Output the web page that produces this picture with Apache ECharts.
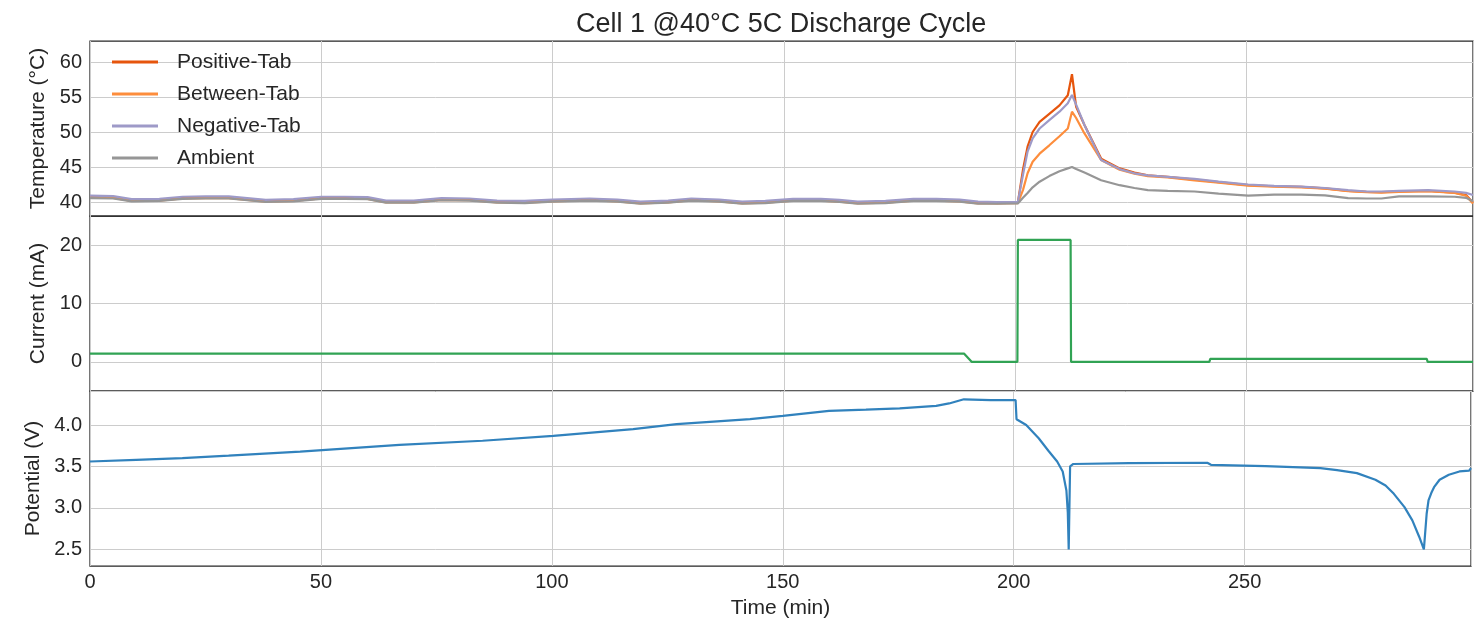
<!DOCTYPE html>
<html>
<head>
<meta charset="utf-8">
<script src="https://cdn.jsdelivr.net/npm/echarts@6/dist/echarts.min.js"></script>
<style>
html,body{margin:0;padding:0;background:#fff;}
#chart{width:1474px;height:623px;}
</style>
</head>
<body>
<div id="chart"></div>
<script>
// ---------- DATA ----------
var titleText = 'Cell 1 @40°C 5C Discharge Cycle';
var seriesNames = ['Positive-Tab', 'Between-Tab', 'Negative-Tab', 'Ambient'];
var xTicks = [0, 50, 100, 150, 200, 250];

var tempTime = [0, 5, 9, 15, 20, 25, 30, 38, 44, 50, 55, 60, 64, 70, 76, 82, 88, 94, 100, 108,
  114, 119, 125, 130, 136, 141, 146, 152, 158, 162, 166, 172, 178, 183, 188, 192, 196,
  200.6, 201.7, 202.7, 203.8, 205.3, 207.4, 209.6, 211.4, 212.3, 213.2,
  215.0, 218.6, 222.6, 225.8, 228.7, 233, 238.8, 244, 250.4, 256,
  261.9, 267, 272, 276, 279.2, 283, 289.3, 295, 297.5, 299.0];

var positiveTab = [40.75, 40.7, 40.25, 40.3, 40.6, 40.65, 40.65, 40.15, 40.25, 40.6, 40.6, 40.55, 40.05, 40.05, 40.4, 40.35, 40.05, 40.0, 40.2, 40.35,
  40.2, 39.9, 40.05, 40.35, 40.2, 39.9, 40.0, 40.3, 40.3, 40.15, 39.9, 40.0, 40.3, 40.3, 40.2, 39.9, 39.85,
  39.9, 44.6, 47.9, 50.0, 51.45, 52.6, 53.8, 55.25, 58.25, 53.6,
  51.0, 46.2, 44.8, 44.2, 43.8, 43.6, 43.2, 42.85, 42.4, 42.25,
  42.15, 41.95, 41.6, 41.45, 41.4, 41.5, 41.6, 41.35, 41.0, 39.9];

var betweenTab = [40.65, 40.6, 40.15, 40.2, 40.5, 40.55, 40.55, 40.05, 40.15, 40.5, 40.5, 40.45, 39.95, 39.95, 40.3, 40.25, 39.95, 39.9, 40.1, 40.25,
  40.1, 39.8, 39.95, 40.25, 40.1, 39.8, 39.9, 40.2, 40.2, 40.05, 39.8, 39.9, 40.2, 40.2, 40.1, 39.8, 39.8,
  39.85, 41.7, 44.1, 45.75, 46.9, 48.1, 49.4, 50.5, 52.9, 52.0,
  49.8, 46.0, 44.6, 44.05, 43.7, 43.5, 43.1, 42.75, 42.35, 42.2,
  42.1, 41.9, 41.55, 41.4, 41.35, 41.45, 41.55, 41.3, 40.9, 39.8];

var negativeTab = [40.9, 40.85, 40.4, 40.45, 40.75, 40.8, 40.8, 40.3, 40.4, 40.75, 40.75, 40.7, 40.2, 40.2, 40.55, 40.5, 40.2, 40.15, 40.35, 40.5,
  40.35, 40.05, 40.2, 40.5, 40.35, 40.05, 40.15, 40.45, 40.45, 40.3, 40.05, 40.15, 40.45, 40.45, 40.35, 40.05, 40.0,
  40.0, 43.85, 47.2, 49.1, 50.5, 51.7, 52.9, 54.1, 55.3, 53.9,
  51.0, 46.0, 44.7, 44.1, 43.8, 43.6, 43.3, 42.9, 42.5, 42.3,
  42.2, 42.0, 41.7, 41.5, 41.5, 41.6, 41.7, 41.5, 41.3, 41.0];

var ambient = [40.55, 40.5, 40.1, 40.15, 40.45, 40.5, 40.5, 40.0, 40.1, 40.45, 40.45, 40.4, 39.9, 39.9, 40.25, 40.2, 39.9, 39.85, 40.05, 40.2,
  40.05, 39.75, 39.9, 40.2, 40.05, 39.75, 39.85, 40.15, 40.15, 40.0, 39.75, 39.85, 40.15, 40.15, 40.05, 39.75, 39.75,
  39.8, 40.6, 41.3, 42.1, 42.9, 43.7, 44.4, 44.8, 45.0, 44.7,
  44.2, 43.1, 42.4, 42.0, 41.7, 41.6, 41.5, 41.2, 40.9, 41.05,
  41.05, 40.95, 40.55, 40.5, 40.5, 40.8, 40.8, 40.75, 40.6, 40.1];

var currentTime = [0, 189.0, 190.6, 200.5, 200.6, 212.0, 212.1, 242.0, 242.2, 289.0, 289.2, 299.0];
var currentVal  = [1.4, 1.4, 0.0, 0.0, 20.9, 20.9, 0.0, 0.0, 0.5, 0.5, 0.0, 0.0];

var potTime = [0, 10, 20, 30, 45.5, 67, 85, 100.3, 117.6, 127, 135, 142.9, 150, 155, 160, 168, 175.3, 183.2, 186, 189.2,
  195, 200.4, 200.6, 202.7, 205.4, 207.5, 209.4, 210.6, 211.4, 211.7, 211.9, 212.0, 212.2, 212.9, 225, 241.9,
  242.7, 254.5, 262, 266.4, 270, 274.3, 278.3, 280.5, 282.3, 284.6, 286.3, 287.8, 288.8, 289.4, 289.8, 290.4, 291, 292.2, 294.2, 296.5, 298.6, 299.0];
var potVal = [3.56, 3.58, 3.60, 3.63, 3.68, 3.76, 3.81, 3.87, 3.95, 4.01, 4.04, 4.07, 4.11, 4.14, 4.17, 4.185, 4.20, 4.23, 4.26, 4.31,
  4.30, 4.30, 4.07, 4.00, 3.84, 3.69, 3.56, 3.44, 3.21, 2.95, 2.50, 2.50, 3.50, 3.53, 3.54, 3.545,
  3.52, 3.505, 3.49, 3.48, 3.455, 3.42, 3.34, 3.27, 3.17, 3.01, 2.85, 2.65, 2.50, 2.93, 3.09, 3.18, 3.25, 3.34, 3.40, 3.44, 3.45, 3.48];

var tempLabelTicks = [40, 45, 50, 55, 60];
var currentLabelTicks = [0, 10, 20];
var potLabelTicks = [2.5, 3.0, 3.5, 4.0];

// ---------- CHART ----------
var FONT = "'Liberation Sans', Arial, sans-serif";
var TXT = '#262626';
var GRIDC = '#cccccc';
var T = 'rgba(0,0,0,0)';
var colors = { 'Positive-Tab': '#e6550d', 'Between-Tab': '#fd8d3c', 'Negative-Tab': '#9e9ac8', 'Ambient': '#969696' };

function pairs(xs, ys) { return xs.map(function (x, i) { return [x, ys[i]]; }); }
function inList(list, v) { return list.some(function (t) { return Math.abs(t - v) < 1e-6; }); }

var xCommon = function (idx, showLabel) {
  return {
    type: 'value', gridIndex: idx, min: 0, max: 299.0, interval: 50,
    axisLine: { show: false }, axisTick: { show: false },
    axisLabel: { show: showLabel, fontSize: 20, color: TXT, fontFamily: FONT, margin: 6,
      formatter: function (v) { return inList(xTicks, v) ? String(v) : ''; } },
    splitLine: { show: true, lineStyle: { color: GRIDC, width: 1 } },
    name: showLabel ? 'Time (min)' : '', nameLocation: 'middle', nameGap: 32,
    nameTextStyle: { fontSize: 21, color: TXT, fontFamily: FONT }
  };
};

var yCommon = function (idx, name, gap, min, max, interval, lineColors, labelTicks, dec) {
  return {
    type: 'value', gridIndex: idx, min: min, max: max, interval: interval,
    axisLine: { show: false }, axisTick: { show: false },
    axisLabel: { fontSize: 20, color: TXT, fontFamily: FONT, margin: 8,
      formatter: function (v) { return inList(labelTicks, v) ? v.toFixed(dec) : ''; } },
    splitLine: { show: true, lineStyle: { color: lineColors, width: 1 } },
    name: name, nameLocation: 'middle', nameGap: gap,
    nameTextStyle: { fontSize: 21, color: TXT, fontFamily: FONT }
  };
};

var lineSeries = function (name, data, color, xi, yi) {
  return {
    name: name, type: 'line', data: data, xAxisIndex: xi, yAxisIndex: yi,
    showSymbol: false, symbol: 'none', smooth: false,
    lineStyle: { color: color, width: 2.2 }, itemStyle: { color: color },
    emphasis: { disabled: true }, animation: false
  };
};

var chart = echarts.init(document.getElementById('chart'), null, { renderer: 'canvas' });
chart.setOption({
  animation: false,
  backgroundColor: '#ffffff',
  textStyle: { fontFamily: FONT },
  title: { text: titleText, left: 571, top: 6,
    textStyle: { fontSize: 27, fontWeight: 'normal', color: TXT, fontFamily: FONT } },
  legend: {
    data: seriesNames.map(function (n) { return { name: n, icon: 'rect', itemStyle: { color: colors[n] } }; }),
    orient: 'vertical', left: 112, top: 51, padding: 0,
    itemWidth: 46, itemHeight: 3, itemGap: 10,
    textStyle: { fontSize: 21, color: TXT, fontFamily: FONT, lineHeight: 22, padding: [0, 0, 0, 14] },
    selectedMode: false
  },
  grid: [
    { left: 90, top: 41, width: 1383, height: 175, show: true, borderColor: TXT, borderWidth: 1.25, backgroundColor: 'transparent' },
    { left: 90, top: 216, width: 1383, height: 175, show: true, borderColor: TXT, borderWidth: 1.25, backgroundColor: 'transparent' },
    { left: 90, top: 391, width: 1383, height: 175, show: true, borderColor: TXT, borderWidth: 1.25, backgroundColor: 'transparent' }
  ],
  xAxis: [xCommon(0, false), xCommon(1, false), xCommon(2, true)],
  yAxis: [
    yCommon(0, 'Temperature (°C)', 37, 38, 63, 1, [T, T, GRIDC, T, T], tempLabelTicks, 0),
    yCommon(1, 'Current (mA)', 40, -5, 25, 5, [T, GRIDC], currentLabelTicks, 0),
    yCommon(2, 'Potential (V)', 46, 2.3, 4.41, 0.1, [T, T, GRIDC, T, T], potLabelTicks, 1)
  ],
  series: [
    lineSeries('Positive-Tab', pairs(tempTime, positiveTab), colors['Positive-Tab'], 0, 0),
    lineSeries('Between-Tab', pairs(tempTime, betweenTab), colors['Between-Tab'], 0, 0),
    lineSeries('Negative-Tab', pairs(tempTime, negativeTab), colors['Negative-Tab'], 0, 0),
    lineSeries('Ambient', pairs(tempTime, ambient), colors['Ambient'], 0, 0),
    lineSeries('Current', pairs(currentTime, currentVal), '#31a354', 1, 1),
    lineSeries('Potential', pairs(potTime, potVal), '#3182bd', 2, 2)
  ]
});
</script>
</body>
</html>
